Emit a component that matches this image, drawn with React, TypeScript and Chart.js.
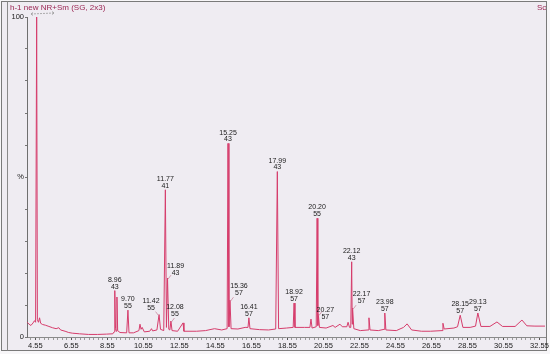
import { useEffect, useRef } from 'react';
import { Chart, registerables } from 'chart.js';

Chart.register(...registerables);

// Total ion trace: [retention time (min), relative intensity (%)]
const tracePoints: [number, number][] = [
  [4.09, 4.6], [4.2, 4.0], [4.3, 3.6], [4.42, 4.4], [4.5, 5.1], [4.56, 4.6],
  [4.62, 100], [4.66, 5.4], [4.72, 4.6], [4.78, 6.0], [4.84, 4.3], [4.95, 3.9],
  [5.1, 3.7], [5.3, 3.3], [5.5, 2.9], [5.7, 2.6], [5.85, 2.9], [5.95, 2.2],
  [6.2, 1.8], [6.4, 1.4], [6.6, 1.2], [7.0, 1.0], [7.5, 0.8], [8.0, 0.8],
  [8.5, 0.9], [8.85, 1.0], [8.92, 1.6], [8.96, 14.5], [9.0, 2.6], [9.04, 1.8],
  [9.08, 12.5], [9.12, 2.0], [9.25, 1.4], [9.62, 1.3], [9.69, 8.4], [9.75, 1.3],
  [10.0, 1.3], [10.3, 2.0], [10.36, 4.0], [10.42, 2.4], [10.48, 3.0], [10.6, 1.6],
  [10.9, 1.8], [11.0, 2.6], [11.06, 1.9], [11.3, 2.2], [11.42, 7.0], [11.5, 2.4],
  [11.68, 2.0], [11.77, 46.0], [11.83, 3.0], [11.89, 18.4], [11.96, 2.4],
  [12.02, 2.2], [12.08, 5.0], [12.14, 2.0], [12.45, 1.8], [12.75, 4.4],
  [12.8, 1.8], [13.5, 1.8], [14.0, 2.0], [14.5, 2.6], [14.9, 2.2], [15.2, 2.6],
  [15.25, 60.5], [15.3, 3.2], [15.36, 11.5], [15.42, 2.6], [15.8, 2.5], [16.2, 3.0],
  [16.36, 3.0], [16.41, 6.0], [16.47, 2.6], [17.0, 2.3], [17.5, 2.2], [17.9, 2.5],
  [17.99, 51.7], [18.06, 2.6], [18.5, 2.8], [18.87, 3.0], [18.92, 10.6],
  [18.97, 3.0], [19.5, 3.0], [19.8, 3.0], [19.86, 5.6], [19.92, 2.8], [20.15, 3.2],
  [20.2, 37.1], [20.24, 3.6], [20.27, 7.0], [20.33, 3.0], [20.7, 2.8],
  [21.08, 3.6], [21.2, 3.0], [21.47, 4.0], [21.6, 3.2], [21.85, 3.2], [21.92, 4.6],
  [22.0, 3.0], [22.07, 3.0], [22.12, 23.5], [22.15, 4.0], [22.17, 9.0],
  [22.24, 2.6], [22.6, 2.0], [23.03, 2.2], [23.08, 6.0], [23.14, 2.2], [23.6, 2.0],
  [23.92, 2.4], [23.96, 7.5], [24.02, 2.2], [24.6, 2.0], [25.0, 3.0], [25.2, 4.1],
  [25.45, 2.2], [26.0, 1.8], [26.5, 1.8], [27.14, 2.0], [27.19, 4.3], [27.26, 2.5],
  [27.8, 2.8], [28.0, 3.2], [28.15, 6.8], [28.3, 3.0], [28.7, 3.0], [29.0, 3.4],
  [29.13, 7.5], [29.3, 3.3], [29.8, 3.3], [30.19, 4.7], [30.5, 3.3], [31.2, 3.3],
  [31.58, 5.3], [31.85, 3.5], [32.3, 3.4], [32.86, 3.4],
];

// Labelled peaks: retention time, base peak m/z, height (%)
const peakTimes = [8.96, 9.69, 11.42, 11.77, 11.89, 12.08, 15.25, 15.36, 16.41, 17.99, 18.92, 20.2, 20.27, 22.12, 22.17, 23.96, 28.15, 29.13];
const peakTimeLabels = ['8.96', '9.70', '11.42', '11.77', '11.89', '12.08', '15.25', '15.36', '16.41', '17.99', '18.92', '20.20', '20.27', '22.12', '22.17', '23.98', '28.15', '29.13'];
const peakMasses = ['43', '55', '55', '41', '43', '55', '43', '57', '57', '43', '57', '55', '57', '43', '57', '57', '57', '57'];
const peakHeights = [14.5, 8.4, 7.0, 46.0, 18.4, 5.0, 60.5, 11.5, 6.0, 51.7, 10.6, 37.1, 7.0, 23.5, 9.0, 7.5, 6.8, 7.5];

const xTickLabels = ['4.55', '6.55', '8.55', '10.55', '12.55', '14.55', '16.55', '18.55', '20.55', '22.55', '24.55', '26.55', '28.55', '30.55', '32.55'];
const yTickLabels: Record<number, string> = { 0: '0', 50: '%', 100: '100' };

const titleText = 'h-1 new NR+Sm (SG, 2x3)';
const cornerText = 'Sc';

const LINE = '#d63d6c';
const majorValues = xTickLabels.map((s) => parseFloat(s));
const isMajor = (v: number) => majorValues.some((m) => Math.abs(m - v) < 1e-6);

// label placement tweaks (pixel offsets) for crowded peaks
const labelPlacement: Record<string, { dx: number; dy: number; lead: number }> = {
  '11.42': { dx: -8, dy: -7, lead: -1 },
  '11.89': { dx: 8, dy: -5, lead: 1 },
  '12.08': { dx: 4, dy: -7, lead: 1 },
  '15.36': { dx: 9, dy: -7, lead: 1 },
  '20.27': { dx: 7, dy: 2, lead: 1 },
  '22.17': { dx: 9, dy: -7, lead: 1 },
};

const framePlugin = {
  id: 'frame',
  beforeDraw(chart: any) {
    const { ctx } = chart;
    ctx.save();
    ctx.fillStyle = '#f7f6f8';
    ctx.fillRect(0, 0, chart.width, chart.height);
    ctx.fillStyle = '#efecf2';
    ctx.fillRect(1, 1, 546, 350);
    ctx.strokeStyle = '#7a7a7a';
    ctx.lineWidth = 1;
    ctx.strokeRect(1.5, 1.5, 545, 349);
    ctx.beginPath();
    ctx.moveTo(7.5, 1.5);
    ctx.lineTo(7.5, 350.5);
    ctx.strokeStyle = '#8a8a8a';
    ctx.stroke();
    ctx.restore();
  },
  afterDraw(chart: any) {
    const { ctx } = chart;
    ctx.save();
    ctx.font = '8px "Liberation Sans", Arial, sans-serif';
    ctx.fillStyle = '#9a2452';
    ctx.textBaseline = 'middle';
    ctx.textAlign = 'left';
    ctx.fillText(titleText, 10, 7.5);
    ctx.fillText(cornerText, 537, 7.5);
    ctx.restore();
    // small range marker near the top of the axis
    ctx.save();
    ctx.strokeStyle = '#9a9a9a';
    ctx.lineWidth = 0.8;
    ctx.setLineDash([2, 1]);
    ctx.beginPath();
    ctx.moveTo(31, 14);
    ctx.lineTo(54, 13);
    ctx.stroke();
    ctx.setLineDash([]);
    ctx.beginPath();
    ctx.moveTo(33, 12.5);
    ctx.lineTo(31, 14);
    ctx.lineTo(33, 15.5);
    ctx.moveTo(52, 11.5);
    ctx.lineTo(54, 13);
    ctx.lineTo(52, 14.5);
    ctx.stroke();
    ctx.restore();
  },
};

const peakLabelPlugin = {
  id: 'peakLabels',
  afterDatasetsDraw(chart: any) {
    const { ctx, scales } = chart;
    const xs = scales.x;
    const ys = scales.y;
    ctx.save();
    ctx.font = '7px "Liberation Sans", Arial, sans-serif';
    ctx.fillStyle = '#1a1a1a';
    ctx.textAlign = 'center';
    ctx.textBaseline = 'middle';
    peakTimes.forEach((t, i) => {
      const ax = xs.getPixelForValue(t);
      const ay = ys.getPixelForValue(peakHeights[i]);
      const p = labelPlacement[peakTimeLabels[i]] || { dx: 0, dy: -4, lead: 0 };
      const lx = ax + p.dx;
      const l2 = ay + p.dy;
      const l1 = l2 - 6.8;
      ctx.fillText(peakTimeLabels[i], lx, l1);
      ctx.fillText(peakMasses[i], lx, l2);
      if (p.lead !== 0) {
        ctx.beginPath();
        ctx.strokeStyle = '#c98aa0';
        ctx.lineWidth = 0.8;
        ctx.moveTo(ax + p.lead * 0.5, ay + 1);
        ctx.lineTo(ax + p.lead * 3.5, ay - 3);
        ctx.stroke();
      }
    });
    ctx.restore();
  },
};

export default function App() {
  const ref = useRef<HTMLCanvasElement>(null);
  useEffect(() => {
    const chart = new Chart(ref.current as HTMLCanvasElement, {
      type: 'line',
      data: {
        datasets: [
          {
            data: tracePoints.map(([x, y]) => ({ x, y })),
            borderColor: LINE,
            borderWidth: 1,
            pointRadius: 0,
            tension: 0,
            fill: false,
          },
        ],
      },
      options: {
        responsive: false,
        animation: false,
        events: [],
        layout: { padding: { left: 0, top: 17, right: 35, bottom: 0 } },
        scales: {
          x: {
            type: 'linear',
            min: 4.083,
            max: 32.86,
            afterBuildTicks(scale: any) {
              const ticks = [];
              for (let k = -1; k <= 112; k++) {
                const v = Math.round((4.55 + k * 0.25) * 1000) / 1000;
                if (v >= scale.min && v <= scale.max) ticks.push({ value: v });
              }
              scale.ticks = ticks;
            },
            afterFit(scale: any) {
              scale.height = 17;
            },
            ticks: {
              autoSkip: false,
              maxRotation: 0,
              minRotation: 0,
              padding: 1,
              color: '#1a1a1a',
              font: { size: 7.5, family: '"Liberation Sans", Arial, sans-serif' },
              callback: (v: any) => {
                const idx = majorValues.findIndex((m) => Math.abs(m - Number(v)) < 1e-6);
                return idx >= 0 ? xTickLabels[idx] : '';
              },
            },
            grid: {
              drawOnChartArea: false,
              drawTicks: true,
              tickLength: 3,
              tickColor: (c: any) => (c.tick && isMajor(c.tick.value) ? '#555' : '#9a9a9a'),
            },
            border: { display: true, color: '#8a8a8a', width: 1 },
          },
          y: {
            min: 0,
            max: 100,
            afterBuildTicks(scale: any) {
              const ticks = [];
              for (let v = 0; v <= 100; v += 10) ticks.push({ value: v });
              scale.ticks = ticks;
            },
            afterFit(scale: any) {
              scale.width = 27;
            },
            ticks: {
              autoSkip: false,
              padding: 1,
              color: '#1a1a1a',
              font: { size: 7.5, family: '"Liberation Sans", Arial, sans-serif' },
              callback: (v: any) => yTickLabels[Number(v)] ?? '',
            },
            grid: {
              drawOnChartArea: false,
              drawTicks: true,
              tickLength: 2,
              tickColor: '#777',
            },
            border: { display: true, color: '#6f6f6f', width: 1 },
          },
        },
        plugins: {
          legend: { display: false },
          tooltip: { enabled: false },
          title: { display: false },
        },
      },
      plugins: [framePlugin, peakLabelPlugin],
    } as any);
    return () => chart.destroy();
  }, []);
  return (
    <div style={{ position: 'fixed', left: 0, top: 0, width: 550, height: 354, overflow: 'hidden' }}>
      <canvas ref={ref} width={580} height={354} style={{ display: 'block' }} />
    </div>
  );
}
